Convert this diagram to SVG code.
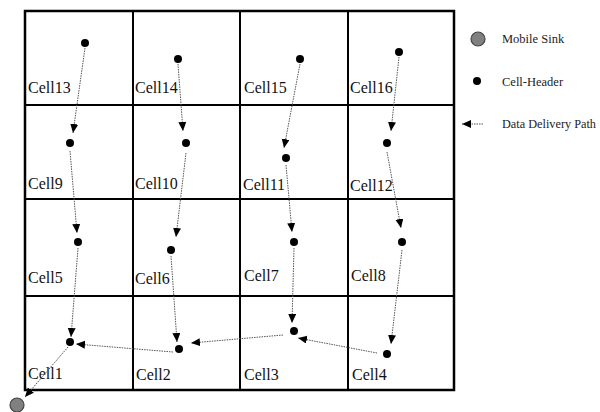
<svg xmlns="http://www.w3.org/2000/svg" width="600" height="412" viewBox="0 0 600 412">
<style>
.cell{fill:none;stroke:#000;stroke-width:2}
.lbl{font-family:"Liberation Serif","Times New Roman",serif;font-size:16px;fill:#111}
.lg{font-family:"Liberation Serif","Times New Roman",serif;font-size:12.5px;fill:#222}
.hd{fill:#000}
.path{stroke:#555;stroke-width:1;stroke-dasharray:1.5 1;fill:none;marker-end:url(#ah)}
.sink{fill:#808080;stroke:#444;stroke-width:1.2}
</style>
<defs>
<marker id="ah" markerUnits="userSpaceOnUse" markerWidth="10" markerHeight="9" refX="9" refY="4" orient="auto">
<path d="M0,0 L9,4 L0,8 z" fill="#000"/>
</marker>
</defs>
<rect width="600" height="412" fill="#fff"/>
<g id="cell13"><rect class="cell" x="25" y="11" width="108" height="94"/><text class="lbl" x="28" y="93">Cell13</text><circle class="hd" cx="85" cy="43" r="4"/></g>
<g id="cell14"><rect class="cell" x="133" y="11" width="107" height="94"/><text class="lbl" x="135" y="93">Cell14</text><circle class="hd" cx="178" cy="59" r="4"/></g>
<g id="cell15"><rect class="cell" x="240" y="11" width="108" height="94"/><text class="lbl" x="244" y="93">Cell15</text><circle class="hd" cx="300" cy="59" r="4"/></g>
<g id="cell16"><rect class="cell" x="348" y="11" width="106" height="94"/><text class="lbl" x="350" y="93">Cell16</text><circle class="hd" cx="399" cy="52" r="4"/></g>
<g id="cell9"><rect class="cell" x="25" y="105" width="108" height="94"/><text class="lbl" x="28" y="189">Cell9</text><circle class="hd" cx="70" cy="143" r="4"/></g>
<g id="cell10"><rect class="cell" x="133" y="105" width="107" height="94"/><text class="lbl" x="135" y="189">Cell10</text><circle class="hd" cx="186" cy="143" r="4"/></g>
<g id="cell11"><rect class="cell" x="240" y="105" width="108" height="94"/><text class="lbl" x="243" y="190">Cell11</text><circle class="hd" cx="286" cy="158" r="4"/></g>
<g id="cell12"><rect class="cell" x="348" y="105" width="106" height="94"/><text class="lbl" x="350" y="191">Cell12</text><circle class="hd" cx="387" cy="143" r="4"/></g>
<g id="cell5"><rect class="cell" x="25" y="199" width="108" height="97"/><text class="lbl" x="28" y="283">Cell5</text><circle class="hd" cx="78" cy="242" r="4"/></g>
<g id="cell6"><rect class="cell" x="133" y="199" width="107" height="97"/><text class="lbl" x="135" y="284">Cell6</text><circle class="hd" cx="171" cy="250" r="4"/></g>
<g id="cell7"><rect class="cell" x="240" y="199" width="108" height="97"/><text class="lbl" x="244" y="281">Cell7</text><circle class="hd" cx="294" cy="242" r="4"/></g>
<g id="cell8"><rect class="cell" x="348" y="199" width="106" height="97"/><text class="lbl" x="351" y="281">Cell8</text><circle class="hd" cx="402" cy="242" r="4"/></g>
<g id="cell1"><rect class="cell" x="25" y="296" width="108" height="94"/><text class="lbl" x="28" y="379">Cell1</text><circle class="hd" cx="70" cy="342" r="4"/></g>
<g id="cell2"><rect class="cell" x="133" y="296" width="107" height="94"/><text class="lbl" x="136" y="380">Cell2</text><circle class="hd" cx="179" cy="349" r="4"/></g>
<g id="cell3"><rect class="cell" x="240" y="296" width="108" height="94"/><text class="lbl" x="244" y="380">Cell3</text><circle class="hd" cx="294" cy="331" r="4"/></g>
<g id="cell4"><rect class="cell" x="348" y="296" width="106" height="94"/><text class="lbl" x="352" y="380">Cell4</text><circle class="hd" cx="387" cy="354" r="4"/></g>
<rect x="25" y="11" width="429" height="379" fill="none" stroke="#000" stroke-width="2.5"/>
<g id="sink"><circle class="sink" cx="17" cy="405" r="7"/></g>
<g id="connectors">
<line class="path" x1="85" y1="48" x2="73" y2="133"/>
<line class="path" x1="178" y1="64" x2="183" y2="131"/>
<line class="path" x1="300" y1="64" x2="284" y2="148"/>
<line class="path" x1="399" y1="57" x2="391" y2="131"/>
<line class="path" x1="70" y1="151" x2="77" y2="233"/>
<line class="path" x1="186" y1="153" x2="176" y2="237"/>
<line class="path" x1="286" y1="165" x2="292" y2="232"/>
<line class="path" x1="387" y1="152" x2="401" y2="228"/>
<line class="path" x1="78" y1="248" x2="71" y2="337"/>
<line class="path" x1="171" y1="256" x2="177" y2="342"/>
<line class="path" x1="294" y1="248" x2="292" y2="323"/>
<line class="path" x1="402" y1="250" x2="391" y2="344"/>
<line class="path" x1="377" y1="353" x2="298" y2="338"/>
<line class="path" x1="283" y1="335" x2="191" y2="343"/>
<line class="path" x1="173" y1="352" x2="76" y2="344"/>
<line class="path" x1="68" y1="347" x2="25" y2="397"/>
</g>
<g id="legend">
<circle class="sink" cx="478" cy="39" r="7"/>
<text class="lg" x="502" y="43">Mobile Sink</text>
<circle class="hd" cx="477" cy="81" r="4"/>
<text class="lg" x="502" y="86">Cell-Header</text>
<line class="path" x1="483" y1="124" x2="462" y2="124"/>
<text class="lg" x="502" y="128" textLength="94" lengthAdjust="spacingAndGlyphs">Data Delivery Path</text>
</g>
</svg>
